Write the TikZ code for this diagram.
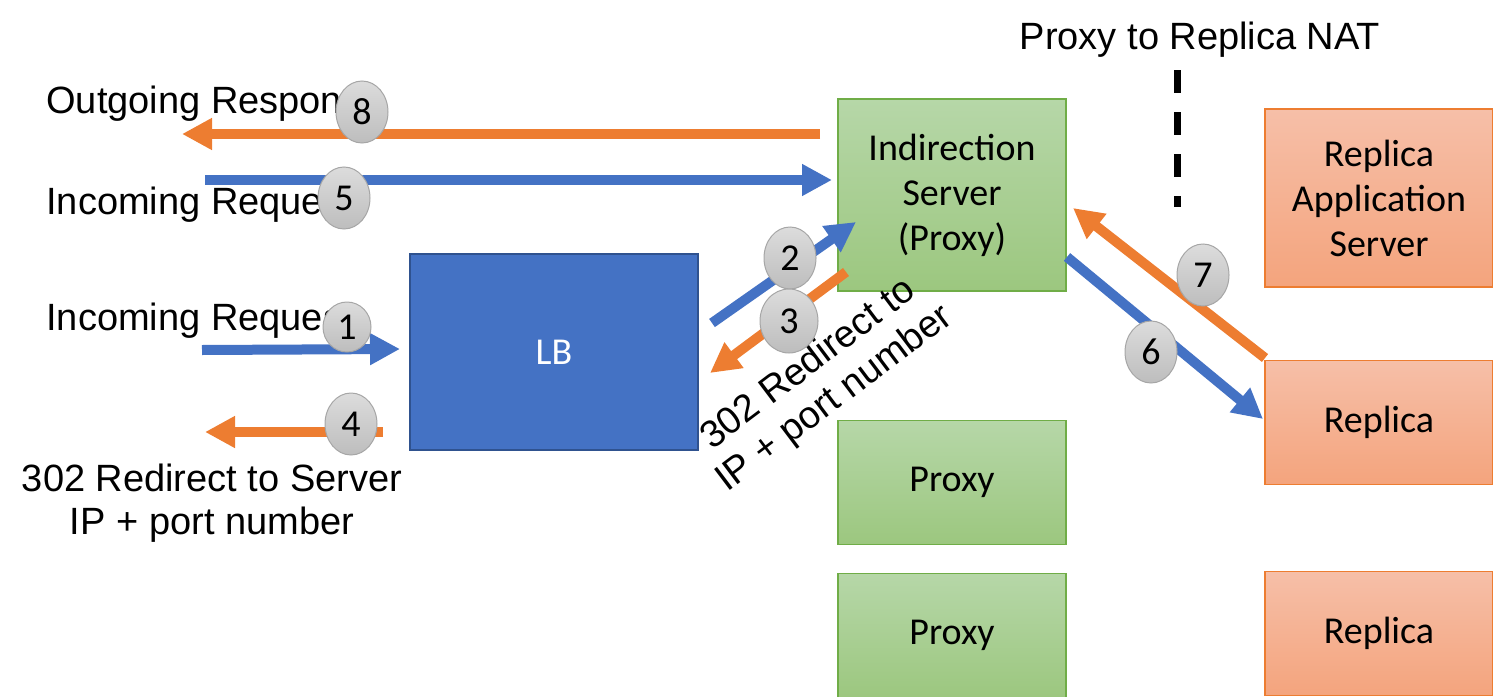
\documentclass[tikz,border=0pt]{standalone}
\usepackage{fontspec}
\setmainfont{Liberation Sans}
\newfontfamily\boxfont{Carlito}
\usetikzlibrary{arrows.meta,positioning,shapes.geometric}
\definecolor{lbblue}{HTML}{4472C4}
\definecolor{lbedge}{HTML}{2F528F}
\definecolor{flowblue}{HTML}{4472C4}
\definecolor{floworange}{HTML}{ED7D31}
\definecolor{proxyedge}{HTML}{70AD47}
\definecolor{proxytop}{HTML}{B6D7A8}
\definecolor{proxybot}{HTML}{9CC77F}
\definecolor{replicaedge}{HTML}{ED7D31}
\definecolor{replicatop}{HTML}{F6BFA8}
\definecolor{replicabot}{HTML}{F4A47D}
\definecolor{badgetop}{HTML}{DCDCDC}
\definecolor{badgebot}{HTML}{BDBDBD}
\definecolor{badgeedge}{HTML}{A6A6A6}
\tikzset{
  proxybox/.style   = {draw=proxyedge, top color=proxytop, bottom color=proxybot, line width=0.6pt,
                       minimum width=114pt, align=center, text=black,
                       font=\boxfont\fontsize{19}{22.5}\selectfont},
  replicabox/.style = {draw=replicaedge, top color=replicatop, bottom color=replicabot, line width=0.6pt,
                       minimum width=114pt, align=center, text=black,
                       font=\boxfont\fontsize{19}{22.5}\selectfont},
  lbbox/.style      = {draw=lbedge, fill=lbblue, line width=0.8pt, text=white,
                       minimum width=144pt, minimum height=98pt,
                       font=\boxfont\fontsize{19}{22.5}\selectfont},
  lbl/.style        = {inner sep=0pt, text=black, font=\fontsize{19}{21.5}\selectfont},
  badge/.style      = {ellipse, draw=badgeedge, top color=badgetop, bottom color=badgebot,
                       line width=0.5pt, inner sep=0pt, minimum width=26pt, minimum height=31pt,
                       font=\boxfont\fontsize{19}{20}\selectfont},
  flowb/.style      = {-{Triangle[length=15pt,width=15pt]}, draw=flowblue, line width=5pt},
  flowo/.style      = {-{Triangle[length=15pt,width=15pt]}, draw=floworange, line width=5pt},
  natline/.style    = {draw=black, line width=3.5pt, dash pattern=on 11.5pt off 9.5pt},
}
\begin{document}
\begin{tikzpicture}[x=0.5pt,y=-0.5pt]
  \useasboundingbox (0,0) rectangle (1493,696);
  % boxes
  \node[lbbox] (lb) at (554,352) {LB};
  \node[proxybox,minimum height=96pt] (indir) at (952,195) {Indirection\\Server\\(Proxy)};
  \node[proxybox,minimum height=62pt,below=64pt of indir] (proxya) {Proxy};
  \node[proxybox,minimum height=62pt,below=14pt of proxya] (proxyb) {Proxy};
  \node[replicabox,minimum height=89pt] (appsrv) at (1379,198) {Replica\\Application\\Server};
  \node[replicabox,minimum height=62pt,below=36pt of appsrv] (replicaa) {Replica};
  \node[replicabox,minimum height=62pt,below=43pt of replicaa] (replicab) {Replica};

  % texts
  \node[lbl,anchor=base west] (outresp) at (46,113) {Outgoing Respon};
  \node[lbl,anchor=base west] (inreqtop) at (46,214) {Incoming Reque};
  \node[lbl,anchor=base west] (inreqlb) at (46,330) {Incoming Reques};
  \node[lbl,align=center] (redirleft) at (212,503) {302 Redirect to Server\\IP + port number};
  \node[lbl,align=center,rotate=37] (redirmid) at (822,382) {302 Redirect to\\IP + port number};
  \node[lbl,anchor=base] (natlbl) at (1200,49) {Proxy to Replica NAT};

  % arrow ends
  \coordinate (s8) at (820,134);  \coordinate (t8) at (182,134);
  \coordinate (s5) at (205,180);  \coordinate (t5) at (832,180);
  \coordinate (s1) at (202,350);  \coordinate (t1) at (400,349);
  \coordinate (s4) at (383,432);  \coordinate (t4) at (205,432);
  \coordinate (s2) at (712,323);  \coordinate (t2) at (856,222);
  \coordinate (s3) at (846,272);  \coordinate (t3) at (710,373);
  \coordinate (s7) at (1265,358); \coordinate (t7) at (1073,208);
  \coordinate (s6) at (1067,257); \coordinate (t6) at (1263,419);
  \draw[flowo] (s8) -- (t8); \draw[flowb] (s5) -- (t5);
  \draw[flowb] (s1) -- (t1); \draw[flowo] (s4) -- (t4);
  \draw[flowb] (s2) -- (t2); \draw[flowo] (s3) -- (t3);
  \draw[flowo] (s7) -- (t7); \draw[flowb] (s6) -- (t6);

  % NAT border
  \coordinate (nattop) at (1177,70); \coordinate (natbot) at (1177,207);
  \draw[natline] (nattop) -- (natbot);

  % step numbers
  \node[badge,minimum width=24pt,minimum height=25pt] (b1) at (347,327) {1};
  \node[badge] (b2) at (790,258) {2};
  \node[badge,minimum width=29pt,minimum height=32pt] (b3) at (789,321) {3};
  \node[badge] (b4) at (351,424) {4};
  \node[badge] (b5) at (344,198) {5};
  \node[badge] (b6) at (1151,352) {6};
  \node[badge] (b7) at (1203,275) {7};
  \node[badge] (b8) at (362,112) {8};
\end{tikzpicture}
\end{document}
